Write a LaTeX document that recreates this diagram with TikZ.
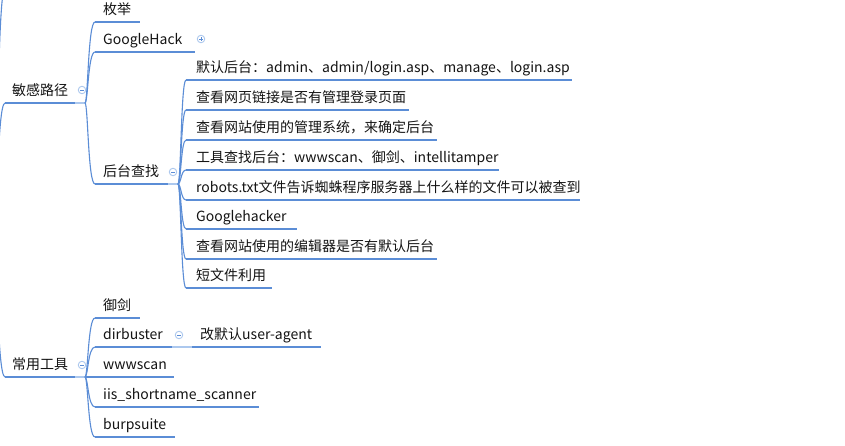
\documentclass[tikz,border=0pt]{standalone}
\usepackage{fontspec}
\setmainfont{Noto Sans CJK SC}
\usetikzlibrary{calc}
\definecolor{lnk}{RGB}{91,141,214}
\definecolor{lnkl}{RGB}{172,200,238}
\definecolor{txt}{RGB}{20,20,20}
\tikzset{
  topic/.style={anchor=base west, inner sep=0pt, font=\fontsize{14}{16}\selectfont, text=txt},
  uline/.style={draw=lnk, line width=1.8pt},
  ulight/.style={draw=lnkl, line width=1.8pt},
  conn/.style={draw=lnk, line width=1.1pt},
  fold/.style={circle, draw=lnkl, fill=white, line width=0.9pt, minimum size=7.5pt, inner sep=0pt,
    path picture={\draw[lnk, line width=0.8pt] ([xshift=1.8pt]path picture bounding box.west) -- ([xshift=-1.8pt]path picture bounding box.east);}},
  foldplus/.style={fold, path picture={\draw[lnk, line width=0.8pt] ([xshift=1.8pt]path picture bounding box.west) -- ([xshift=-1.8pt]path picture bounding box.east) ([yshift=1.8pt]path picture bounding box.south) -- ([yshift=-1.8pt]path picture bounding box.north);}},
}
\newcommand\mmconn[2]{\draw[conn] (#1) .. controls ($(#1)+(3,0)$) and ($(#1|-#2)+(3,0)$) .. (#2);}
\begin{document}
\begin{tikzpicture}[x=1pt,y=-1pt]
\useasboundingbox (0,0) rectangle (845,445);
\clip (0,0) rectangle (845,445);
\fill[white] (0,0) rectangle (845,445);
% root junction (off picture) and sibling above
\coordinate (R) at (-6,240);
\coordinate (up-s) at (5,-12);
\coordinate (s1-s) at (5,103);
\coordinate (s2-s) at (5,377);
\mmconn{R}{up-s}
\mmconn{R}{s1-s}
\mmconn{R}{s2-s}

% ---------- 敏感路径 ----------
\node[topic] (s1) at (12,95) {敏感路径};
\coordinate (s1-e) at (75,103);
\coordinate (A) at (85,103);
\draw[uline] (s1-s) -- (s1-e);
\draw[ulight] (s1-e) -- (A);
\node[fold] (f1) at (82,90) {};

\coordinate (a1-s) at (95,22);  \coordinate (a1-e) at (140,22);
\coordinate (a2-s) at (95,52);  \coordinate (a2-e) at (195,52);
\coordinate (a3-s) at (95,184); \coordinate (a3-e) at (168,184);
\coordinate (B) at (178,184);
\mmconn{A}{a1-s}
\mmconn{A}{a2-s}
\mmconn{A}{a3-s}
\draw[uline] (a1-s) -- (a1-e);
\draw[uline] (a2-s) -- (a2-e);
\draw[uline] (a3-s) -- (a3-e);
\draw[ulight] (a3-e) -- (B);
\node[topic] (a1) at (103,14) {枚举};
\node[topic] (a2) at (103,44) {GoogleHack};
\node[foldplus] (f2) at (201,39) {};
\node[topic] (a3) at (103,176) {后台查找};
\node[fold] (f3) at (173,172) {};

% children of 后台查找
\foreach \n/\y/\e/\t in {
  b1/80/572/{默认后台：admin、admin/login.asp、manage、login.asp},
  b2/110/409/{查看网页链接是否有管理登录页面},
  b3/140/437/{查看网站使用的管理系统，来确定后台},
  b4/170/499/{工具查找后台：wwwscan、御剑、intellitamper},
  b5/200/580/{robots.txt文件告诉蜘蛛程序服务器上什么样的文件可以被查到},
  b6/229/297/{Googlehacker},
  b7/259/437/{查看网站使用的编辑器是否有默认后台},
  b8/288/272/{短文件利用}}{
  \coordinate (\n-s) at (186,\y);
  \coordinate (\n-e) at (\e,\y);
  \mmconn{B}{\n-s}
  \draw[uline] (\n-s) -- (\n-e);
  \node[topic] (\n) at (196,\y-8) {\t};
}

% ---------- 常用工具 ----------
\node[topic] (s2) at (12,369) {常用工具};
\coordinate (s2-e) at (75,377);
\coordinate (C) at (85,377);
\draw[uline] (s2-s) -- (s2-e);
\draw[ulight] (s2-e) -- (C);
\node[fold] (f4) at (82,365) {};

\foreach \n/\y/\e/\t in {
  c1/318/140/{御剑},
  c2/347/172/{dirbuster},
  c3/377/174/{wwwscan},
  c4/407/259/{iis\_shortname\_scanner},
  c5/437/175/{burpsuite}}{
  \coordinate (\n-s) at (95,\y);
  \coordinate (\n-e) at (\e,\y);
  \mmconn{C}{\n-s}
  \draw[uline] (\n-s) -- (\n-e);
  \node[topic] (\n) at (103,\y-8) {\t};
}
\coordinate (D) at (192,347);
\coordinate (d1-e) at (321,347);
\draw[ulight] (c2-e) -- (D);
\draw[uline] (D) -- (d1-e);
\node[fold] (f5) at (179,335) {};
\node[topic] (d1) at (200,339) {改默认user-agent};
\end{tikzpicture}
\end{document}
